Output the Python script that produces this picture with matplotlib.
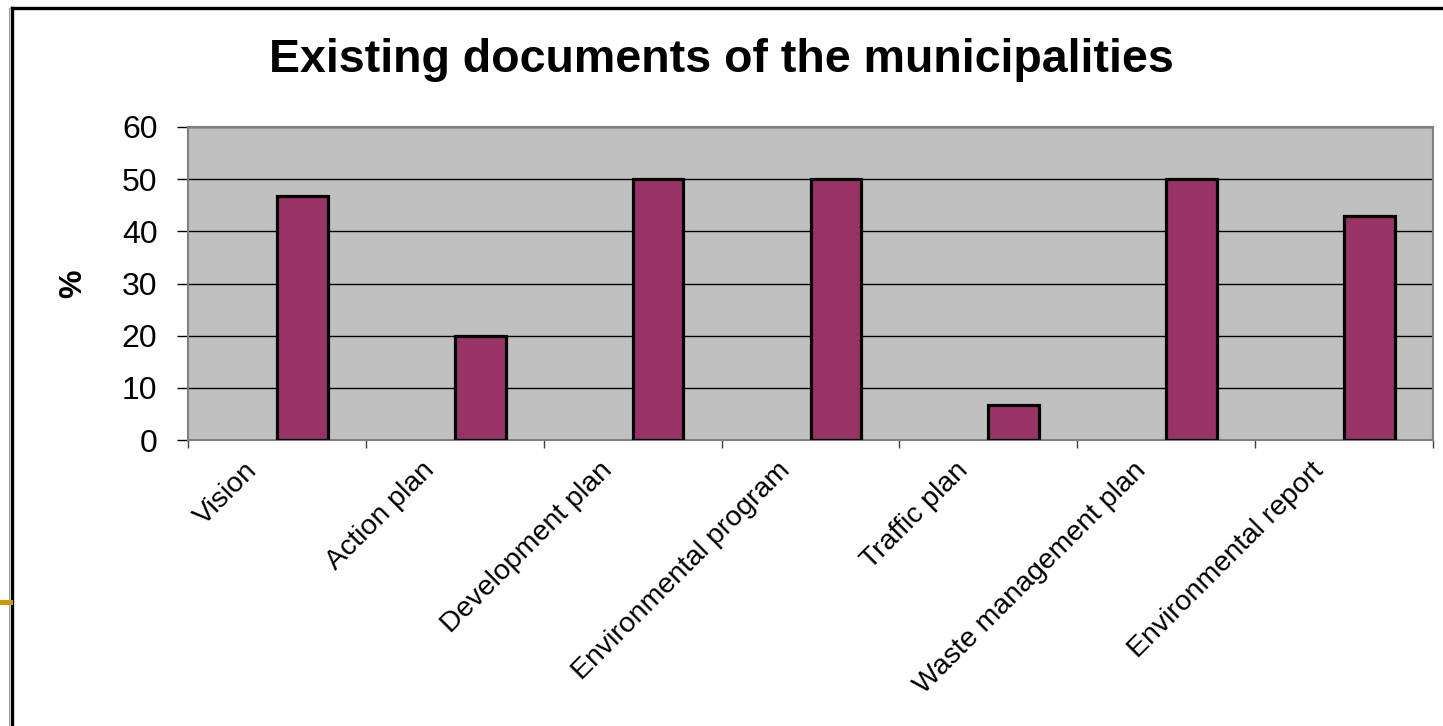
import numpy as np
import matplotlib
matplotlib.use("Agg")
import matplotlib.pyplot as plt
from matplotlib.lines import Line2D
from matplotlib.transforms import ScaledTranslation

plt.rcParams['font.family'] = ['Liberation Sans', 'DejaVu Sans']

# data
categories = ["Vision", "Action plan", "Development plan", "Environmental program",
              "Traffic plan", "Waste management plan", "Environmental report"]
values = [46.7, 20.0, 50.0, 50.0, 6.7, 50.0, 42.9]
y_ticks = [0, 10, 20, 30, 40, 50, 60]

title = "Existing documents of the municipalities"
bar_color = "#993366"
plot_bg = "#C0C0C0"

fig = plt.figure(figsize=(14.43, 7.26), dpi=100)
ax = fig.add_axes([188 / 1443, 1 - 440 / 726, (1433 - 188) / 1443, (440 - 127) / 726])
ax.set_facecolor(plot_bg)

# excel-style clustered layout: an empty first series, gap width 150%
n = len(categories)
x = np.arange(n)
bw = 1 / 3.5
ax.bar(x + bw / 2, values, width=bw, color=bar_color, edgecolor="black",
       linewidth=2.3, zorder=3)

ax.set_xlim(-0.5, n - 0.5)
ax.set_ylim(0, 60)
ax.set_yticks(y_ticks)
ax.set_yticklabels([str(v) for v in y_ticks], fontsize=23)
ax.tick_params(axis="y", length=8, width=1, color="black", pad=14, direction="out")
ax.yaxis.grid(True, color="black", linewidth=1.0, zorder=1)
ax.set_axisbelow(True)

# category labels at centres, tick marks between categories
ax.set_xticks(x)
ax.set_xticklabels(categories, rotation=45, ha="right", va="center",
                   rotation_mode="anchor", fontsize=20.5)
ax.tick_params(axis="x", which="major", length=0, pad=19)
shift = ScaledTranslation(-24 / 100, 0, fig.dpi_scale_trans)
for lab in ax.get_xticklabels():
    lab.set_transform(lab.get_transform() + shift)
ax.set_xticks(np.arange(n + 1) - 0.5, minor=True)
ax.tick_params(axis="x", which="minor", length=6, width=1, color="#404040",
               direction="out")

for side in ["top", "right", "bottom", "left"]:
    ax.spines[side].set_color("#808080")
    ax.spines[side].set_linewidth(1.5)

ax.set_ylabel("%", fontsize=23, fontweight="bold", labelpad=24)

fig.text(721 / 1443, 1 - 60 / 726, title, ha="center", va="center",
         fontsize=33.5, fontweight="bold")

# slide frame around the chart
frame_x = 11.5 / 1443
frame_y = 1 - 7.5 / 726
fig.add_artist(Line2D([frame_x, frame_x], [0, frame_y], transform=fig.transFigure,
                      color="black", linewidth=2.4, solid_capstyle="projecting"))
fig.add_artist(Line2D([frame_x, 1], [frame_y, frame_y], transform=fig.transFigure,
                      color="black", linewidth=2.4, solid_capstyle="projecting"))
fig.add_artist(Line2D([9.3 / 1443, 9.3 / 1443], [0, frame_y], transform=fig.transFigure,
                      color="#A0A0A0", linewidth=0.8))
fig.add_artist(Line2D([0, 10 / 1443], [1 - 602 / 726, 1 - 602 / 726],
                      transform=fig.transFigure, color="#CC9900", linewidth=3.6))

fig.savefig("out.png", dpi=100)
